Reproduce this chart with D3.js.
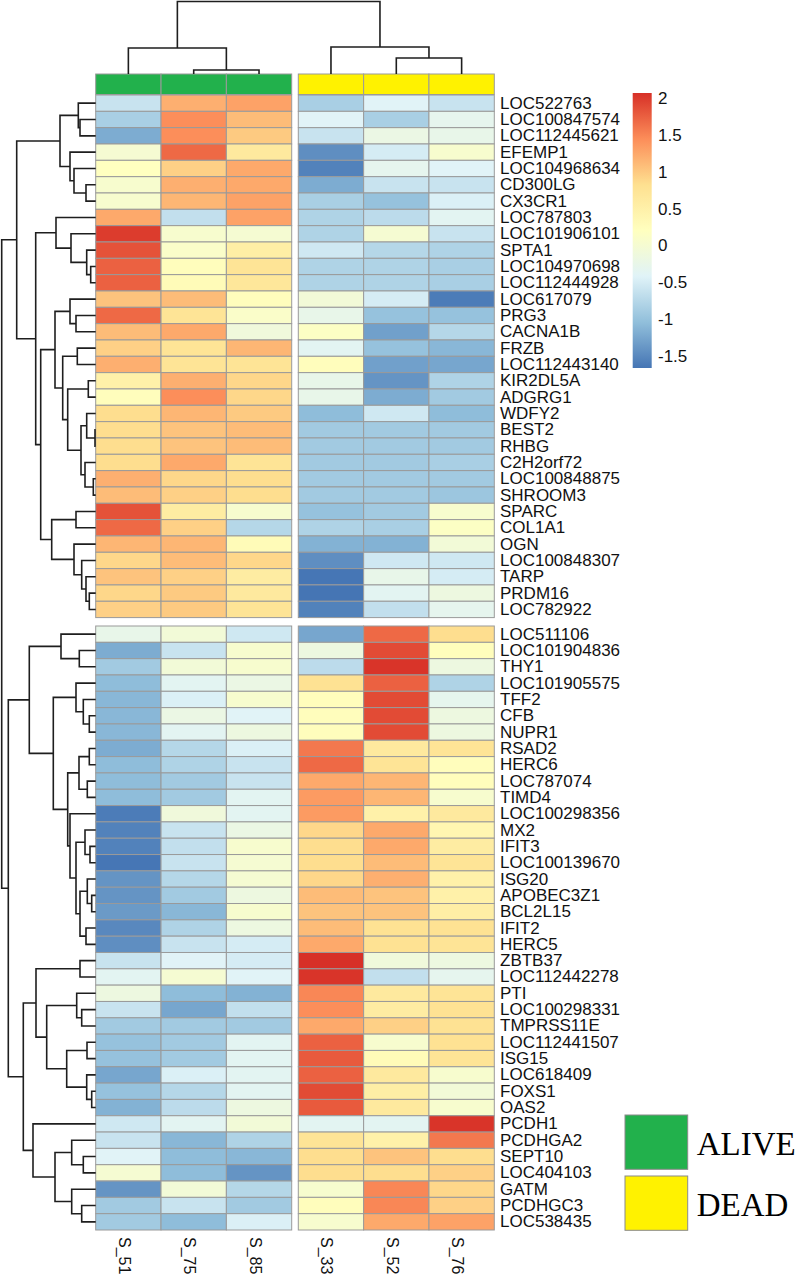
<!DOCTYPE html>
<html><head><meta charset="utf-8">
<script src="https://cdn.jsdelivr.net/npm/d3@7"></script>
<style>body{margin:0;background:#fff} svg{display:block}</style>
</head><body>
<svg id="chart" width="800" height="1275"></svg>
<script>
// ---------------- data ----------------
const samples = ["S_51","S_75","S_85","S_33","S_52","S_76"];
const sampleGroup = ["ALIVE","ALIVE","ALIVE","DEAD","DEAD","DEAD"];
const groups = ["ALIVE","DEAD"];
const groupColors = ["#22B14C","#FFF200"];

const genesTop = ["LOC522763","LOC100847574","LOC112445621","EFEMP1","LOC104968634","CD300LG","CX3CR1","LOC787803",
  "LOC101906101","SPTA1","LOC104970698","LOC112444928","LOC617079","PRG3","CACNA1B","FRZB","LOC112443140",
  "KIR2DL5A","ADGRG1","WDFY2","BEST2","RHBG","C2H2orf72","LOC100848875","SHROOM3","SPARC","COL1A1","OGN",
  "LOC100848307","TARP","PRDM16","LOC782922"];
const genesBottom = ["LOC511106","LOC101904836","THY1","LOC101905575","TFF2","CFB","NUPR1","RSAD2","HERC6",
  "LOC787074","TIMD4","LOC100298356","MX2","IFIT3","LOC100139670","ISG20","APOBEC3Z1","BCL2L15","IFIT2","HERC5",
  "ZBTB37","LOC112442278","PTI","LOC100298331","TMPRSS11E","LOC112441507","ISG15","LOC618409","FOXS1","OAS2",
  "PCDH1","PCDHGA2","SEPT10","LOC404103","GATM","PCDHGC3","LOC538435"];

// z-scores per sample (top block rows, then bottom block rows)
const S_51 = [-0.6,-0.85,-1.2,0.0,0.2,0.05,0.05,1.25,2.0,1.85,1.75,1.75,1.05,1.7,1.1,0.95,1.2,0.5,0.25,0.85,0.85,0.85,0.85,1.2,1.1,1.85,1.7,1.15,0.9,1.05,0.9,0.95,
  -0.25,-1.2,-0.9,-1.05,-1.1,-1.1,-1.1,-1.2,-1.05,-1.05,-1.05,-1.6,-1.55,-1.55,-1.65,-1.4,-1.4,-1.35,-1.5,-1.45,-0.6,-0.35,-0.15,-0.6,-0.9,-1.0,-1.0,-1.25,-1.0,-1.15,-0.55,-0.6,-0.4,0.0,-1.4,-0.9,-0.9];
const S_75 = [1.2,1.45,1.45,1.7,0.95,1.2,1.15,-0.65,0.05,0.1,0.25,0.3,1.1,0.75,1.25,0.75,0.75,1.2,1.45,1.15,1.05,1.05,1.25,0.9,0.95,0.6,0.95,1.15,1.1,0.95,1.0,1.0,
  -0.05,-0.6,-0.05,-0.35,-0.45,-0.2,-0.35,-0.75,-0.8,-0.9,-0.9,-0.1,-0.6,-0.65,-0.6,-0.75,-0.9,-1.1,-0.8,-0.6,-0.4,0.0,-1.05,-1.25,-0.9,-0.9,-0.9,-0.45,-0.75,-0.7,-0.35,-1.1,-1.05,-1.05,-0.05,-0.6,-1.05];
const S_85 = [1.3,1.1,1.0,0.65,1.25,1.25,1.3,1.3,0.0,0.55,0.75,0.7,0.25,0.1,-0.1,1.15,0.75,0.9,0.9,1.0,1.1,1.1,0.75,0.85,0.85,0.05,-0.75,0.3,0.9,0.6,0.65,0.75,
  -0.55,0.05,0.05,-0.2,0.05,-0.4,-0.15,-0.45,-0.6,-0.6,-0.35,-0.35,-0.2,0.05,0.0,0.0,-0.15,0.05,-0.15,-0.5,-0.5,-0.4,-1.15,-0.65,-0.9,-0.35,-0.35,-0.35,-0.35,-0.15,-0.05,-0.8,-1.1,-1.4,-0.75,-0.9,-0.45];
const S_33 = [-0.85,-0.4,-0.6,-1.45,-1.55,-1.2,-0.85,-0.8,-0.8,-0.55,-0.8,-0.8,-0.05,-0.25,0.15,-0.35,0.25,-0.25,-0.25,-1.05,-0.9,-0.9,-0.9,-0.9,-0.9,-1.0,-0.8,-1.15,-1.45,-1.65,-1.66,-1.55,
  -1.25,-0.15,-0.7,0.8,0.25,0.25,0.25,1.6,1.7,1.25,1.35,1.35,0.9,0.85,0.85,0.9,1.1,1.05,1.1,1.25,2.08,2.05,1.5,1.45,1.25,1.75,1.8,1.75,1.9,1.8,-0.35,0.75,0.85,0.85,0.05,0.25,0.05];
const S_52 = [-0.4,-0.85,-0.2,-0.5,-0.3,-0.6,-1.0,-0.7,0.0,-0.75,-0.8,-0.8,-0.5,-1.0,-1.3,-1.0,-1.3,-1.4,-1.2,-0.55,-0.9,-0.9,-0.9,-0.9,-0.9,-0.9,-0.85,-1.15,-0.55,-0.25,-0.35,-0.65,
  1.7,1.9,2.05,1.75,1.9,1.9,1.9,0.65,0.75,1.15,1.15,0.5,1.25,1.25,1.1,1.2,1.05,1.05,0.8,0.8,-0.1,-0.65,0.65,0.6,0.95,0.05,0.3,0.65,0.55,0.65,-0.35,0.5,1.05,0.85,1.5,1.5,1.25];
const S_76 = [-0.6,-0.3,-0.25,0.05,-0.4,-0.6,-0.45,-0.35,-0.6,-0.8,-0.85,-0.85,-1.6,-1.0,-0.75,-1.1,-1.25,-0.8,-0.9,-1.05,-0.9,-0.9,-0.85,-0.9,-0.95,0.05,0.15,-0.05,-0.55,-0.5,-0.15,-0.3,
  0.85,0.25,-0.15,-0.8,-0.3,-0.15,-0.15,0.75,0.25,0.25,0.05,0.65,0.4,0.6,0.75,0.5,0.5,0.55,0.8,0.75,-0.15,-0.3,0.75,0.8,0.8,0.8,0.75,0.05,-0.05,0.05,2.05,1.6,0.85,0.95,0.9,0.95,1.3];

const valueMin = -1.66, valueMax = 2.08;
const palette = ["#4575B4","#91BFDB","#E0F3F8","#FFFFBF","#FEE090","#FC8D59","#D73027"];
const legendTicks = [2,1.5,1,0.5,0,-0.5,-1,-1.5];

// hierarchical clustering: [mergeHeight, left, right]; leaves are row indices
const clA = [35.7, [17.4, 0, [15.7, 1, 2]], [25.7, 3, [21.7, 4, [9.7, 5, 6]]]];
const clC = [39.7, 7, [24.7, 8, [9, 9, [5, 10, 11]]]];
const clG = [25.7, 12, [19.7, 13, 14]];
const clJ = [28, [7.4, 17, 18], [14.7, [9, 19, [0.7, 20, 21]], [10.7, 22, [2.4, 23, 24]]]];
const clH = [33, [18.4, 15, 16], clJ];
const clF = [44, [19.7, 25, 26], [21.7, 27, [14, 28, [9.7, 29, [6.4, 30, 31]]]]];
const clTop = [79, clA, [60, clC, [55, [40.7, clG, clH], clF]]];
const clQ = [34.7, 32, [16.4, 33, 34]];
const clS = [19.7, 35, [12.4, 36, [6.4, 37, 38]]];
const clU = [16.7, [6.4, 39, 40], [8.4, 41, 42]];
const clV = [19.7, [10.7, 44, [5.7, 45, 46]], [15.7, [8.4, 47, [4, 48, 49]], [9.7, 50, 51]]];
const clP = [66.4, clQ, [42.4, clS, [28, clU, [25.7, 43, clV]]]];
const clX = [59.7, [15.7, 52, 53], [49, [19, 54, [14, 55, 56]], [29, [8.7, 57, 58], [9, 59, [4, 60, 61]]]]];
const clL = [62.7, 62, [40.7, [24, 63, [12.4, 64, 65]], [24, 66, [14, 67, 68]]]];
const rowTree = [94, clTop, [87.4, clP, [72.4, clX, clL]]];
const colTree = [72.5, [26, 0, [4, 1, 2]], [27, 3, [16, 4, 5]]];

// ---------------- drawing ----------------
const svg = d3.select("#chart");
const values = [S_51, S_75, S_85, S_33, S_52, S_76];
const genes = genesTop.concat(genesBottom);

const xLeft = d3.scaleBand().domain(samples.slice(0,3)).range([95.7, 291.7]);
const xRight = d3.scaleBand().domain(samples.slice(3)).range([298.3, 494.3]);
const colX = i => i < 3 ? xLeft(samples[i]) : xRight(samples[i]);
const colW = xLeft.bandwidth();
const yTop = d3.scaleBand().domain(d3.range(0, genesTop.length)).range([95, 617.6]);
const yBot = d3.scaleBand().domain(d3.range(genesTop.length, genes.length)).range([626, 1230]);
const rowY = i => i < genesTop.length ? yTop(i) : yBot(i);
const rowH = yTop.bandwidth();

const color = d3.scaleLinear()
  .domain(palette.map((c, i) => valueMin + i * (valueMax - valueMin) / (palette.length - 1)))
  .range(palette).interpolate(d3.interpolateRgb);
const groupColor = d3.scaleOrdinal().domain(groups).range(groupColors);

// cells
const cells = [];
genes.forEach((g, r) => samples.forEach((s, c) => cells.push({r, c, v: values[c][r]})));
svg.append("g").selectAll("rect").data(cells).join("rect")
  .attr("x", d => colX(d.c)).attr("y", d => rowY(d.r))
  .attr("width", colW).attr("height", rowH)
  .attr("fill", d => color(d.v))
  .attr("stroke", "#9a9a9a").attr("stroke-width", 1);

// annotation bar
svg.append("g").selectAll("rect").data(samples).join("rect")
  .attr("x", (d, i) => colX(i)).attr("y", 74).attr("width", colW).attr("height", 20.5)
  .attr("fill", (d, i) => groupColor(sampleGroup[i]))
  .attr("stroke", "#9a9a9a").attr("stroke-width", 1);

// row labels
svg.append("g").selectAll("text").data(genes).join("text")
  .attr("x", 500).attr("y", (d, i) => rowY(i) + rowH / 2)
  .attr("dominant-baseline", "central")
  .style("font-family", "'Liberation Sans', Arial, sans-serif").style("font-size", "17px")
  .attr("fill", "#111").text(d => d);

// column labels
svg.append("g").selectAll("text").data(samples).join("text")
  .attr("transform", (d, i) => `translate(${colX(i) + colW / 2 - 4},1237) rotate(90)`)
  .attr("dominant-baseline", "central")
  .style("font-family", "'Liberation Sans', Arial, sans-serif").style("font-size", "16px")
  .attr("fill", "#111").text(d => d);

// dendrograms
function drawTree(tree, leafPos, hScale, horizontal) {
  const paths = [];
  function walk(node) {
    if (typeof node === "number") return {p: leafPos(node), h: 0};
    const a = walk(node[1]), b = walk(node[2]);
    const h = node[0];
    if (horizontal) {
      paths.push(`M${hScale(a.h)},${a.p}H${hScale(h)}V${b.p}H${hScale(b.h)}`);
    } else {
      paths.push(`M${a.p},${hScale(a.h)}V${hScale(h)}H${b.p}V${hScale(b.h)}`);
    }
    return {p: (a.p + b.p) / 2, h};
  }
  walk(tree);
  return paths;
}
const rowH2X = d3.scaleLinear().domain([0, rowTree[0]]).range([95.7, 1.7]);
const colH2Y = d3.scaleLinear().domain([0, colTree[0]]).range([74, 1.5]);
svg.append("g").selectAll("path")
  .data(drawTree(rowTree, i => rowY(i) + rowH / 2, rowH2X, true)).join("path")
  .attr("d", d => d).attr("fill", "none").attr("stroke", "#1e1e1e").attr("stroke-width", 1.6);
svg.append("g").selectAll("path")
  .data(drawTree(colTree, i => colX(i) + colW / 2, colH2Y, false)).join("path")
  .attr("d", d => d).attr("fill", "none").attr("stroke", "#1e1e1e").attr("stroke-width", 1.6);

// colour legend
const defs = svg.append("defs");
const grad = defs.append("linearGradient").attr("id", "lg").attr("x1", 0).attr("y1", 1).attr("x2", 0).attr("y2", 0);
grad.selectAll("stop").data(palette).join("stop")
  .attr("offset", (d, i) => i / (palette.length - 1)).attr("stop-color", d => d);
const legY = d3.scaleLinear().domain([valueMin, valueMax]).range([368, 93]);
svg.append("rect").attr("x", 632.7).attr("y", legY(valueMax)).attr("width", 19)
  .attr("height", legY(valueMin) - legY(valueMax)).attr("fill", "url(#lg)");
svg.append("g").selectAll("text").data(legendTicks).join("text")
  .attr("x", 658).attr("y", d => legY(d)).attr("dominant-baseline", "central")
  .style("font-family", "'Liberation Sans', Arial, sans-serif").style("font-size", "17px")
  .attr("fill", "#111").text(d => d);

// group legend
const gl = svg.append("g").selectAll("g").data(groups).join("g")
  .attr("transform", (d, i) => `translate(625,${1115 + i * 61})`);
gl.append("rect").attr("width", 62.7).attr("height", 54.3)
  .attr("fill", d => groupColor(d)).attr("stroke", "#8a8a8a").attr("stroke-width", 1);
gl.append("text").attr("x", 71.7).attr("y", 40)
  .style("font-family", "'Liberation Serif', 'Times New Roman', serif").style("font-size", "33px")
  .attr("fill", "#000").text(d => d);
</script>
</body></html>
